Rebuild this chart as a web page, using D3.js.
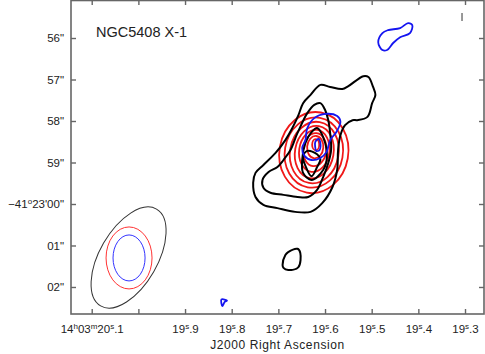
<html>
  <body style="margin:0">
    <style>
      text { font-family: "Liberation Sans", Arial, sans-serif; fill: #222; }
      .frame { fill: none; stroke: #666; stroke-width: 1.6; }
      .tick line { stroke: #666; stroke-width: 1.4; }
    </style>

    <script src="https://d3js.org/d3.v7.min.js"></script>

    <svg id="chart"></svg>

    <script>
      // axis ticks (RA in seconds of 14h03m, Dec in arcsec past -41d22'00")
      const raTicks = [20.1, 20.0, 19.9, 19.8, 19.7, 19.6, 19.5, 19.4, 19.3];
      const raTickLabels = ['14^h03^m20^s.1', '', '19^s.9', '19^s.8', '19^s.7', '19^s.6', '19^s.5', '19^s.4', '19^s.3'];
      const decTicks = [56, 57, 58, 59, 60, 61, 62];
      const decTickLabels = ['56"', '57"', '58"', '59"', "\u221241^o23'00\"", '01"', '02"'];

      // black contours [ra, dec]
      const blackContours = [
        [[19.610,57.13],[19.589,57.18],[19.563,57.23],[19.550,57.16],[19.518,56.92],[19.507,56.94],[19.497,57.18],
         [19.492,57.37],[19.499,57.57],[19.509,57.90],[19.531,57.98],[19.541,57.98],[19.557,58.10],[19.567,58.34],
         [19.572,58.70],[19.574,59.18],[19.584,59.59],[19.606,59.98],[19.631,60.19],[19.664,60.19],[19.702,60.10],
         [19.732,60.02],[19.749,59.83],[19.754,59.49],[19.749,59.25],[19.732,59.06],[19.706,58.77],[19.685,58.46],
         [19.670,58.17],[19.657,57.86],[19.647,57.57],[19.631,57.37]],
        [[19.610,57.57],[19.600,57.73],[19.593,57.98],[19.589,58.29],[19.587,58.70],[19.593,59.01],[19.604,59.35],
         [19.617,59.66],[19.636,59.83],[19.659,59.83],[19.689,59.78],[19.717,59.73],[19.732,59.61],[19.734,59.42],
         [19.721,59.23],[19.702,59.11],[19.689,58.94],[19.674,58.70],[19.661,58.34],[19.653,58.14],[19.638,57.81],
         [19.623,57.61]],
        [[19.617,58.17],[19.604,58.39],[19.596,58.87],[19.604,59.18],[19.629,59.42],[19.647,59.25],[19.649,58.94],
         [19.642,58.53],[19.629,58.27]],
        [[19.638,58.72],[19.617,58.80],[19.610,58.92],[19.617,59.11],[19.629,59.33],[19.642,59.08],[19.647,58.87]],
        [[19.685,61.23],[19.679,61.16],[19.659,61.08],[19.653,61.18],[19.657,61.52],[19.679,61.59],[19.689,61.54],
         [19.691,61.47]]
      ];

      // blue contours [ra, dec]
      const blueContours = [
        [[19.642,58.46],[19.638,58.17],[19.623,57.93],[19.600,57.83],[19.574,57.88],[19.567,58.02],[19.576,58.27],
         [19.589,58.46],[19.597,58.75],[19.610,58.89],[19.629,58.94],[19.644,58.84],[19.649,58.65]],
        [[19.621,58.51],[19.614,58.43],[19.610,58.53],[19.612,58.70],[19.619,58.72],[19.621,58.63]],
        [[19.477,56.29],[19.486,56.10],[19.477,55.88],[19.465,55.81],[19.439,55.76],[19.422,55.64],[19.413,55.69],
         [19.418,55.88],[19.439,55.98],[19.454,56.12],[19.467,56.29]],
        [[19.822,62.30],[19.810,62.33],[19.815,62.36],[19.820,62.46]]
      ];

      // red contours as ellipses: ra, dec, semi-minor ("), semi-major ("), position angle (deg)
      const redRa = [19.624, 19.624, 19.623, 19.623, 19.623, 19.622, 19.621, 19.620];
      const redDec = [58.76, 58.76, 58.76, 58.75, 58.72, 58.69, 58.63, 58.57];
      const redMinor = [0.83, 0.70, 0.585, 0.465, 0.365, 0.28, 0.195, 0.085];
      const redMajor = [0.98, 0.85, 0.745, 0.635, 0.51, 0.40, 0.27, 0.135];
      const redPa = [-10, -10, -10, -10, -8, -6, -5, 0];

      // beams: ra, dec, semi-minor, semi-major, pa
      const beamColors = ['#333', '#f33', '#33f'];
      const beamMinor = [0.696, 0.554, 0.386];
      const beamMajor = [1.347, 0.747, 0.554];
      const beamPa = [-30, 0, 0];
      const beamRa = [20.021, 20.020, 20.020];
      const beamDec = [61.29, 61.30, 61.30];

      const stray = [[19.3064, 55.40], [19.3064, 55.59]];

      const width = 485, height = 354;
      const plot = { left: 71, right: 484, top: 0, bottom: 314 };

      const svg = d3.select('#chart').attr('width', width).attr('height', height);

      const x = d3.scaleLinear().domain([20.1444, 19.2593]).range([plot.left, plot.right]);
      const y = d3.scaleLinear().domain([55.084, 62.651]).range([plot.top, plot.bottom]);
      const pxPerArcsec = y(1) - y(0);

      svg.append('clipPath').attr('id', 'clip')
        .append('rect')
        .attr('x', plot.left).attr('y', plot.top)
        .attr('width', plot.right - plot.left).attr('height', plot.bottom - plot.top);

      const marks = svg.append('g').attr('clip-path', 'url(#clip)');

      const line = d3.line()
        .x((d) => x(d[0]))
        .y((d) => y(d[1]))
        .curve(d3.curveCatmullRomClosed.alpha(0.5));

      // red ellipses
      marks.append('g').selectAll('ellipse')
        .data(redRa.map((r, i) => i))
        .join('ellipse')
        .attr('transform', (i) => `translate(${x(redRa[i])},${y(redDec[i])}) rotate(${-redPa[i]})`)
        .attr('rx', (i) => redMinor[i] * pxPerArcsec)
        .attr('ry', (i) => redMajor[i] * pxPerArcsec)
        .attr('fill', 'none')
        .attr('stroke', '#f01818')
        .attr('stroke-width', 1.8);

      marks.append('g').selectAll('path')
        .data(blackContours)
        .join('path')
        .attr('d', line)
        .attr('fill', 'none')
        .attr('stroke', '#000')
        .attr('stroke-width', 2)
        .attr('stroke-linejoin', 'round');

      marks.append('g').selectAll('path')
        .data(blueContours)
        .join('path')
        .attr('d', line)
        .attr('fill', 'none')
        .attr('stroke', '#1515f0')
        .attr('stroke-width', 1.8)
        .attr('stroke-linejoin', 'round');

      marks.append('path')
        .attr('d', d3.line().x((d) => x(d[0])).y((d) => y(d[1]))(stray))
        .attr('stroke', '#777')
        .attr('stroke-width', 1.5);

      // beams
      marks.append('g').selectAll('ellipse')
        .data(beamColors.map((c, i) => i))
        .join('ellipse')
        .attr('transform', (i) => `translate(${x(beamRa[i])},${y(beamDec[i])}) rotate(${-beamPa[i]})`)
        .attr('rx', (i) => beamMinor[i] * pxPerArcsec)
        .attr('ry', (i) => beamMajor[i] * pxPerArcsec)
        .attr('fill', 'none')
        .attr('stroke', (i) => beamColors[i])
        .attr('stroke-width', 1);

      // rich text with ^x superscripts
      function richText(sel, str, supSize) {
        sel.text(null);
        let up = false;
        str.split(/(\^.)/).forEach((part) => {
          if (!part) return;
          if (part[0] === '^') {
            sel.append('tspan').attr('dy', -4).attr('font-size', supSize).text(part[1]);
            up = true;
          } else {
            const t = sel.append('tspan').text(part);
            if (up) t.attr('dy', 4);
            up = false;
          }
        });
      }

      // axes
      const xAxisBottom = d3.axisBottom(x).tickValues(raTicks).tickSize(-5).tickPadding(11).tickFormat(() => '');
      const gx = svg.append('g').attr('transform', `translate(0,${plot.bottom})`).call(xAxisBottom);
      gx.select('.domain').remove();
      gx.selectAll('.tick text')
        .attr('font-size', 11.5)
        .each(function (d, i) { richText(d3.select(this), raTickLabels[i], '8px'); });

      const gxTop = svg.append('g').attr('transform', `translate(0,${plot.top})`)
        .call(d3.axisTop(x).tickValues(raTicks).tickSize(-5).tickFormat(() => ''));
      gxTop.select('.domain').remove();

      const gy = svg.append('g').attr('transform', `translate(${plot.left},0)`)
        .call(d3.axisLeft(y).tickValues(decTicks).tickSize(-5).tickPadding(7).tickFormat(() => ''));
      gy.select('.domain').remove();
      gy.selectAll('.tick text')
        .attr('font-size', 11.5)
        .each(function (d, i) { richText(d3.select(this), decTickLabels[i], '8px'); });

      const gyRight = svg.append('g').attr('transform', `translate(${plot.right},0)`)
        .call(d3.axisRight(y).tickValues(decTicks).tickSize(-5).tickFormat(() => ''));
      gyRight.select('.domain').remove();

      svg.append('rect')
        .attr('class', 'frame')
        .attr('x', plot.left).attr('y', plot.top + 0.5)
        .attr('width', plot.right - plot.left).attr('height', plot.bottom - plot.top - 0.5);

      svg.append('text')
        .attr('x', 96).attr('y', 37)
        .attr('font-size', 14.5)
        .attr('fill', '#000')
        .text('NGC5408 X-1');

      svg.append('text')
        .attr('x', (plot.left + plot.right) / 2).attr('y', 349)
        .attr('text-anchor', 'middle')
        .attr('font-size', 12)
        .attr('letter-spacing', 0.6)
        .text('J2000 Right Ascension');
    </script>
  </body>
</html>
